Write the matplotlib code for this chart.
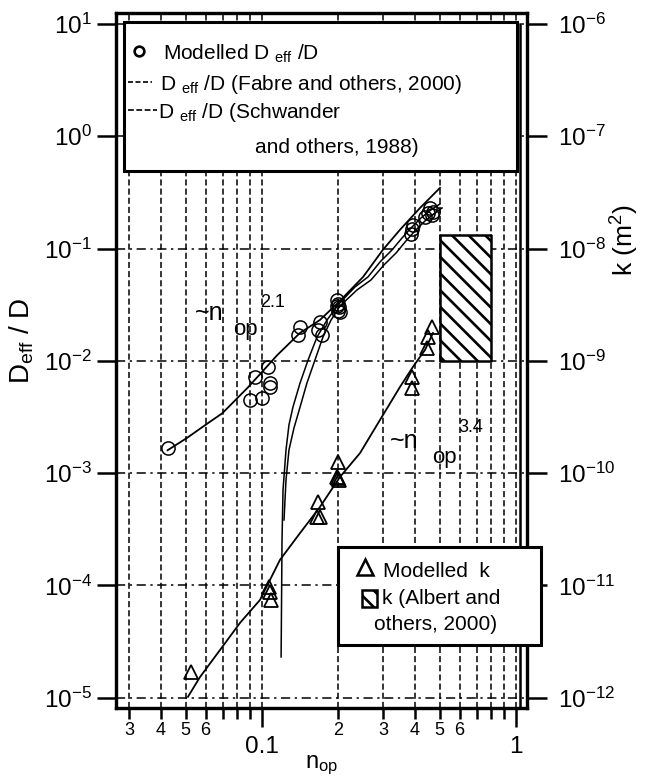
import math
import matplotlib
matplotlib.use("Agg")
import matplotlib.pyplot as plt
import matplotlib.ticker as ticker
from matplotlib.patches import Rectangle
from matplotlib.lines import Line2D

plt.rcParams['font.family'] = ['Liberation Sans', 'DejaVu Sans']
plt.rcParams['mathtext.fontset'] = 'custom'
plt.rcParams['mathtext.rm'] = 'Liberation Sans'
plt.rcParams['mathtext.it'] = 'Liberation Sans:italic'
plt.rcParams['mathtext.bf'] = 'Liberation Sans:bold'
plt.rcParams['mathtext.default'] = 'regular'
plt.rcParams['axes.unicode_minus'] = False
plt.rcParams['hatch.linewidth'] = 1.9

# modelled effective diffusivity (open porosity, Deff/D)
circ_n = [0.458, 0.450, 0.438, 0.471, 0.465,
          0.385, 0.390, 0.392,
          0.198, 0.200, 0.201, 0.199, 0.202, 0.197,
          0.141, 0.139, 0.169, 0.166, 0.172,
          0.1056, 0.0938, 0.1075, 0.1075, 0.0897, 0.100,
          0.0427]
circ_d = [0.230, 0.207, 0.191, 0.212, 0.198,
          0.135, 0.150, 0.163,
          0.035, 0.032, 0.030, 0.028, 0.027, 0.031,
          0.020, 0.017, 0.0222, 0.0188, 0.017,
          0.00883, 0.0072, 0.00635, 0.00586, 0.00449, 0.00468,
          0.00168]

# power law curve through the diffusivity results (~n^2.1)
fit21_n = [0.0425, 0.0505, 0.0624, 0.0696, 0.0748, 0.0880, 0.1012, 0.1146,
           0.141, 0.169, 0.199, 0.250, 0.299, 0.349, 0.419, 0.502]
fit21_d = [0.00160, 0.00205, 0.00287, 0.0034, 0.0040, 0.0058, 0.0082, 0.0112,
           0.0177, 0.0231, 0.0328, 0.0559, 0.0973, 0.1466, 0.230, 0.347]

# Schwander and others (1988)
schw_n = [0.1189, 0.1194, 0.1199, 0.1210, 0.1243, 0.1277, 0.1324, 0.1412, 0.1519, 0.1647,
          0.1803, 0.1991, 0.2323, 0.2614, 0.2915, 0.3251, 0.3558, 0.3861, 0.4227, 0.4627, 0.5020]
schw_d = [2.31e-5, 7.43e-5, 2.54e-4, 7.08e-4, 1.61e-3, 2.69e-3, 3.88e-3, 6.35e-3, 0.0102, 0.0163,
          0.0231, 0.0315, 0.0455, 0.0559, 0.0760, 0.0973, 0.1242, 0.1524, 0.1874, 0.2208, 0.2495]

# Fabre and others (2000)
fabre_n = [0.1221, 0.1243, 0.1277, 0.1336, 0.1412, 0.1503, 0.1617, 0.1738, 0.1870, 0.2028,
           0.2366, 0.2686, 0.3020, 0.3373, 0.3689, 0.400, 0.4382, 0.4799, 0.5116]
fabre_d = [3.83e-4, 8.69e-4, 1.61e-3, 2.52e-3, 3.88e-3, 6.35e-3, 0.0102, 0.0163, 0.0231, 0.0308,
           0.0428, 0.0525, 0.0714, 0.0914, 0.1169, 0.1435, 0.176, 0.2075, 0.230]

# modelled permeability k (m^2)
tri_n = [0.0524,
         0.1066, 0.1075, 0.1083,
         0.166, 0.165, 0.169,
         0.199, 0.197, 0.201, 0.200,
         0.390, 0.390,
         0.467, 0.450, 0.446]
tri_k = [1.71e-12,
         9.7e-12, 8.8e-12, 7.4e-12,
         5.5e-11, 4.1e-11, 4.1e-11,
         1.26e-10, 9.2e-11, 8.7e-11, 9.0e-11,
         7.2e-10, 5.7e-10,
         2.0e-9, 1.63e-9, 1.3e-9]

# power law curve through the permeability results (~n^3.4)
fit34_n = [0.0511, 0.0570, 0.0684, 0.0819, 0.0982, 0.1177, 0.1412, 0.1691, 0.2028, 0.2432,
           0.2915, 0.3494, 0.3928, 0.4382, 0.4712]
fit34_k = [1.02e-12, 1.53e-12, 2.67e-12, 4.64e-12, 7.43e-12, 1.69e-11, 2.93e-11, 5.0e-11,
           9.25e-11, 1.51e-10, 2.98e-10, 5.86e-10, 8.83e-10, 1.25e-9, 1.77e-9]

# Albert and others (2000) permeability range
albert_n = [0.5, 0.8]
albert_k = [1.0e-9, 1.32e-8]

# tick positions
x_major = [0.1, 1.0]
x_minor = [0.03, 0.04, 0.05, 0.06, 0.07, 0.08, 0.09,
           0.2, 0.3, 0.4, 0.5, 0.6, 0.7, 0.8, 0.9]
d_ticks = [10.0 ** e for e in range(-5, 2)]
k_ticks = [10.0 ** e for e in range(-12, -5)]

XMIN, XMAX = 0.02661, 1.1046


def fx(px):
    # figure pixel column -> axes fraction
    return (px - 116) / 411.0


def fy(py):
    # figure pixel row -> axes fraction
    return (708 - py) / 695.3


fig = plt.figure(figsize=(6.45, 7.78), dpi=100)
ax = fig.add_axes([0.1798, 0.0900, 0.6372, 0.8937])
ax.set_xscale('log')
ax.set_yscale('log')
ax.set_xlim(XMIN, XMAX)
ax.set_ylim(8.11e-6, 12.6)

# grid
ax.grid(True, which='both', axis='x', color='k', lw=1.1, ls=(0, (4, 2)))
ax.grid(True, which='major', axis='y', color='k', lw=1.1, ls=(0, (6, 3, 1.5, 3)))

ax.plot(fit21_n, fit21_d, color='k', lw=1.3, zorder=3)
ax.plot(schw_n, schw_d, color='k', lw=1.1, zorder=3)
ax.plot(fabre_n, fabre_d, color='k', lw=1.1, zorder=3)
ax.plot(circ_n, circ_d, 'o', mfc='none', mec='k', ms=9.5, mew=1.1, zorder=4)

ax2 = ax.twinx()
ax2.set_yscale('log')
ax2.set_ylim(8.11e-13, 1.26e-6)
ax2.fill_between(albert_n, albert_k[0], albert_k[1], facecolor='white', edgecolor='k',
                 hatch='\\\\', lw=1.8, zorder=2)
ax2.plot(fit34_n, fit34_k, color='k', lw=1.3, zorder=3)
ax2.plot(tri_n, tri_k, '^', mfc='none', mec='k', ms=10, mew=1.3, zorder=4)

# ticks
ax.xaxis.set_major_locator(ticker.FixedLocator(x_major))
ax.xaxis.set_minor_locator(ticker.FixedLocator(x_minor))


def minor_lab(v, p):
    m = int(round(v / 10 ** math.floor(math.log10(v) + 1e-9)))
    return '%d' % m if m in (2, 3, 4, 5, 6) else ''


ax.xaxis.set_major_formatter(ticker.FuncFormatter(lambda v, p: '%g' % v))
ax.xaxis.set_minor_formatter(ticker.FuncFormatter(minor_lab))
ax.yaxis.set_major_locator(ticker.FixedLocator(d_ticks))
ax.yaxis.set_major_formatter(ticker.LogFormatterSciNotation())
ax.yaxis.set_minor_locator(ticker.NullLocator())
ax2.yaxis.set_major_locator(ticker.FixedLocator(k_ticks))
ax2.yaxis.set_major_formatter(ticker.LogFormatterSciNotation())
ax2.yaxis.set_minor_locator(ticker.NullLocator())

ax.tick_params(axis='y', which='major', direction='out', length=13.7, width=1.8, pad=3.6,
               labelsize=17.5, right=False)
ax.tick_params(axis='x', which='major', direction='out', length=13.7, width=1.8, pad=6.8,
               labelsize=17.5, top=False)
ax.tick_params(axis='x', which='minor', direction='out', length=7.9, width=1.8, pad=2,
               labelsize=13, top=False)
ax2.tick_params(axis='y', which='major', direction='out', length=14.4, width=1.8, pad=8,
                labelsize=17.5)
for a in (ax, ax2):
    for s in a.spines.values():
        s.set_linewidth(2.3)

# inner frame line on the right side
ax2.add_line(Line2D([fx(520), fx(520)], [fy(708), fy(24)], color='k', lw=1.8,
                    transform=ax2.transAxes, zorder=5))

# axis labels
ax.set_xlabel(r'n$_{op}$', fontsize=17)
ax.xaxis.set_label_coords(0.5, fy(777.5))
ax.xaxis.label.set_va('bottom')
ax.set_ylabel(r'D$_{eff}$ / D', fontsize=20)
ax.yaxis.set_label_coords(fx(22), fy(341))
ax.yaxis.label.set_va('center')
ax2.set_ylabel(r'k (m$^{2}$)', fontsize=19)
ax2.yaxis.set_label_coords(fx(625), fy(240))
ax2.yaxis.label.set_va('center')

# power law annotations
ax.text(0.0545, 0.0231, '~n', fontsize=18)
ax.text(0.0769, 0.0170, 'op', fontsize=16)
ax.text(0.0982, 0.0302, '2.1', fontsize=13)
ax.text(0.319, 1.68e-3, '~n', fontsize=18)
ax.text(0.467, 1.23e-3, 'op', fontsize=16)
ax.text(0.591, 2.33e-3, '3.4', fontsize=13)

# upper key box
tr = ax2.transAxes
ax2.add_patch(Rectangle((fx(124), fy(170.7)), fx(517) - fx(124), fy(21.7) - fy(170.7),
                        transform=tr, fc='white', ec='k', lw=2.2, zorder=10, clip_on=False))
ax2.add_line(Line2D([fx(139)], [fy(51)], marker='o', mfc='none', mec='k', ms=7, mew=1.9,
                    transform=tr, zorder=11))
ax2.text(fx(163), fy(60), r'Modelled D $_{eff}$ /D', fontsize=15, transform=tr, zorder=11,
         va='baseline')
ax2.add_line(Line2D([fx(128), fx(152)], [fy(82), fy(82)], color='k', lw=1.2,
                    ls=(0, (3, 1.5, 3, 1.5, 3, 1.5, 1, 1.5)), transform=tr, zorder=11))
ax2.text(fx(160), fy(90), r'D $_{eff}$ /D (Fabre and others, 2000)', fontsize=15,
         transform=tr, zorder=11, va='baseline')
ax2.add_line(Line2D([fx(128), fx(157)], [fy(110), fy(110)], color='k', lw=1.2,
                    ls=(0, (3.5, 1.5)), transform=tr, zorder=11))
ax2.text(fx(158), fy(118), r'D $_{eff}$ /D (Schwander', fontsize=15, transform=tr,
         zorder=11, va='baseline')
ax2.text(fx(255), fy(153), 'and others, 1988)', fontsize=15, transform=tr, zorder=11,
         va='baseline')

# lower key box
ax2.add_patch(Rectangle((fx(338), fy(645)), fx(541) - fx(338), fy(547) - fy(645),
                        transform=tr, fc='white', ec='k', lw=2.2, zorder=10, clip_on=False))
ax2.add_line(Line2D([fx(365)], [fy(567)], marker='^', mfc='none', mec='k', ms=11, mew=1.8,
                    transform=tr, zorder=11, clip_on=False))
ax2.text(fx(383), fy(577), 'Modelled  k', fontsize=15, transform=tr, zorder=11,
         va='baseline')
ax2.add_patch(Rectangle((fx(362), fy(607)), fx(377) - fx(362), fy(590) - fy(607),
                        transform=tr, fc='white', ec='k', lw=1.8, hatch='\\\\', zorder=11,
                        clip_on=False))
ax2.text(fx(382), fy(604), 'k (Albert and', fontsize=15, transform=tr, zorder=11,
         va='baseline')
ax2.text(fx(374), fy(630), 'others, 2000)', fontsize=15, transform=tr, zorder=11,
         va='baseline', clip_on=False)

fig.savefig('out.png', dpi=100)
